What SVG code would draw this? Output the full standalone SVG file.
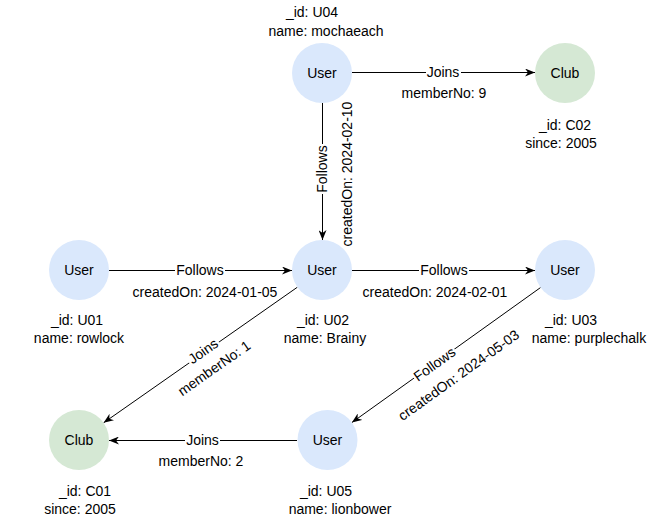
<svg xmlns="http://www.w3.org/2000/svg" width="648" height="520" viewBox="0 0 648 520">
<defs>
<style>
text{font-family:"Liberation Sans",Arial,sans-serif;font-size:14px;fill:#000;text-anchor:middle}
.user{fill:#dae8fc}
.club{fill:#d5e8d4}
.edge{stroke:#000;stroke-width:1;fill:none;marker-end:url(#arr)}
.bg{fill:#fff}
</style>
<marker id="arr" markerUnits="userSpaceOnUse" viewBox="0 0 10 8" refX="10" refY="4" markerWidth="10" markerHeight="8" orient="auto">
<path d="M0,0 L10,4 L0,8 L3,4 Z" fill="#000"/>
</marker>
</defs>
<rect width="648" height="520" fill="#fff"/>

<g id="connectors">
<g id="e-u04-c02">
<line class="edge" x1="352" y1="72.5" x2="535" y2="72.5"/>
<rect class="bg" x="426" y="64" width="35" height="16"/>
<text x="443" y="77">Joins</text>
<text x="444" y="98">memberNo: 9</text>
</g>
<g id="e-u04-u02">
<line class="edge" x1="322.5" y1="103" x2="322.5" y2="240"/>
<g transform="translate(322,169) rotate(-90)">
<rect class="bg" x="-25" y="-8" width="50" height="16"/>
<text x="0" y="5">Follows</text>
</g>
<g transform="translate(347,174) rotate(-90)">
<text x="0" y="5">createdOn: 2024-02-10</text>
</g>
</g>
<g id="e-u01-u02">
<line class="edge" x1="109" y1="270.5" x2="292" y2="270.5"/>
<rect class="bg" x="175" y="262" width="50" height="16"/>
<text x="200" y="275">Follows</text>
<text x="205" y="297">createdOn: 2024-01-05</text>
</g>
<g id="e-u02-u03">
<line class="edge" x1="352" y1="270.5" x2="535" y2="270.5"/>
<rect class="bg" x="419" y="262" width="50" height="16"/>
<text x="444" y="275">Follows</text>
<text x="435" y="297">createdOn: 2024-02-01</text>
</g>
<g id="e-u02-c01">
<line class="edge" x1="297.4" y1="287.2" x2="103.6" y2="422.8"/>
<g transform="translate(203,351) rotate(-35)">
<rect class="bg" x="-18" y="-8" width="36" height="16"/>
<text x="0" y="5">Joins</text>
</g>
<g transform="translate(214,368) rotate(-35)">
<text x="0" y="5">memberNo: 1</text>
</g>
</g>
<g id="e-u03-u05">
<line class="edge" x1="540.6" y1="287.5" x2="351.9" y2="422.5"/>
<g transform="translate(434.5,364) rotate(-35.6)">
<rect class="bg" x="-25" y="-8" width="50" height="16"/>
<text x="0" y="5">Follows</text>
</g>
<g transform="translate(458.5,375) rotate(-35.6)">
<text x="0" y="5">createdOn: 2024-05-03</text>
</g>
</g>
<g id="e-u05-c01">
<line class="edge" x1="297" y1="440.5" x2="109" y2="440.5"/>
<rect class="bg" x="185" y="432" width="35" height="16"/>
<text x="202.5" y="445">Joins</text>
<text x="201" y="466">memberNo: 2</text>
</g>
</g>

<g id="node-u04">
<circle class="user" cx="322" cy="73" r="30"/>
<text x="322" y="78">User</text>
<text x="312" y="17">_id: U04</text>
<text x="326" y="36">name: mochaeach</text>
</g>
<g id="node-c02">
<circle class="club" cx="565" cy="73" r="30"/>
<text x="565" y="78">Club</text>
<text x="565" y="130">_id: C02</text>
<text x="561" y="148">since: 2005</text>
</g>
<g id="node-u01">
<circle class="user" cx="79" cy="270" r="30"/>
<text x="79" y="275">User</text>
<text x="77" y="325">_id: U01</text>
<text x="79" y="343">name: rowlock</text>
</g>
<g id="node-u02">
<circle class="user" cx="322" cy="270" r="30"/>
<text x="322" y="275">User</text>
<text x="323" y="325">_id: U02</text>
<text x="325" y="343">name: Brainy</text>
</g>
<g id="node-u03">
<circle class="user" cx="565" cy="270" r="30"/>
<text x="565" y="275">User</text>
<text x="571" y="325">_id: U03</text>
<text x="589" y="343">name: purplechalk</text>
</g>
<g id="node-c01">
<circle class="club" cx="79" cy="440" r="30"/>
<text x="79" y="445">Club</text>
<text x="85" y="496">_id: C01</text>
<text x="80" y="514">since: 2005</text>
</g>
<g id="node-u05">
<circle class="user" cx="327.5" cy="440" r="30"/>
<text x="327.5" y="445">User</text>
<text x="326" y="496">_id: U05</text>
<text x="340" y="514">name: lionbower</text>
</g>
</svg>
